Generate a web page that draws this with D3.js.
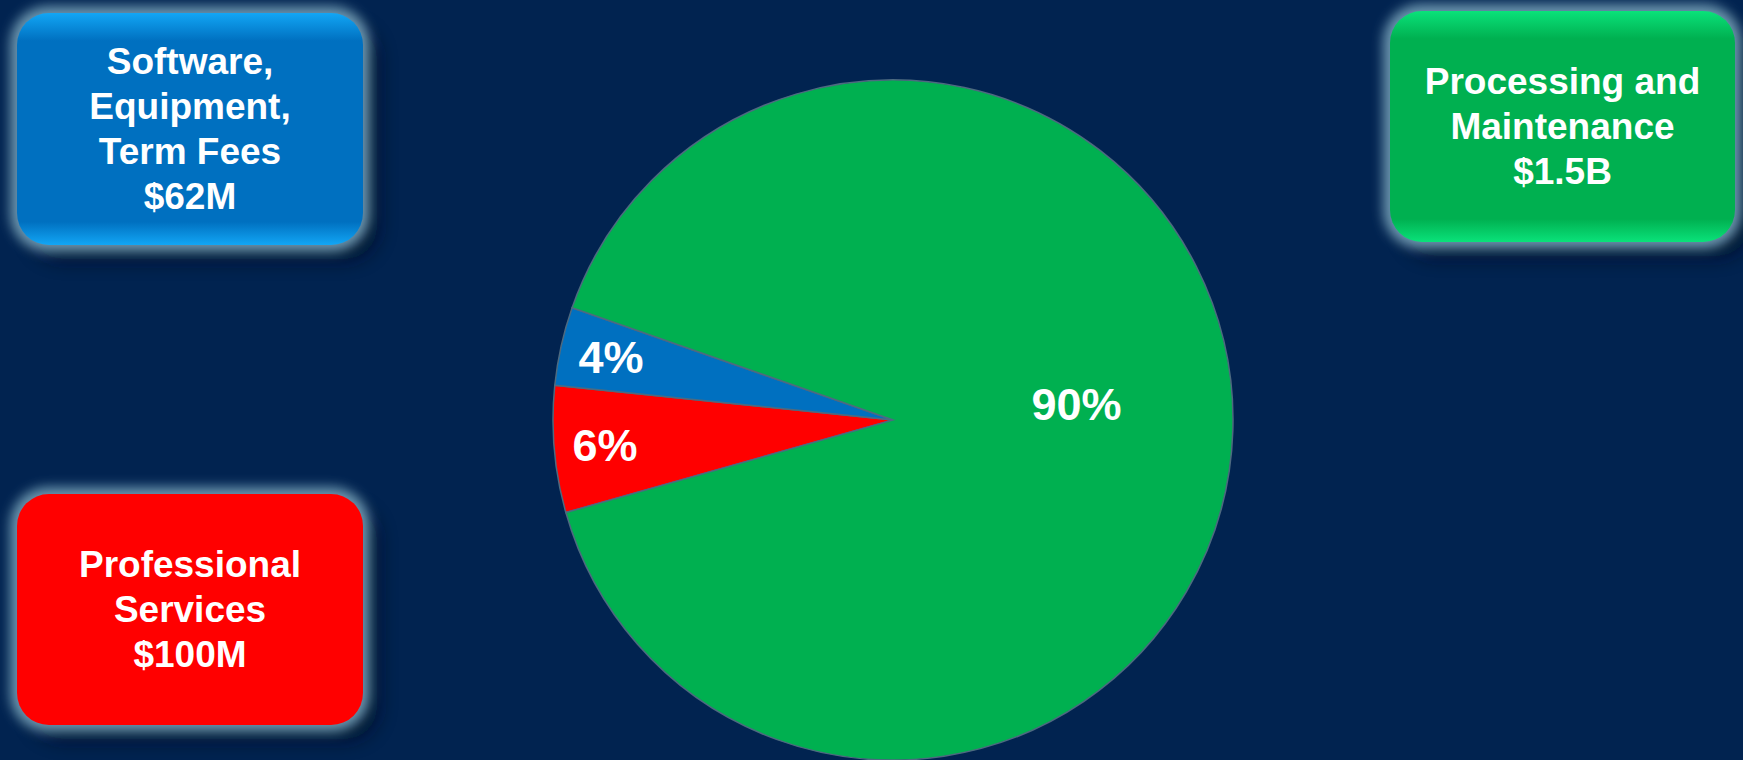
<!DOCTYPE html>
<html>
<head>
<meta charset="utf-8">
<script src="https://cdn.jsdelivr.net/npm/d3@7"></script>
<style>
  html, body { margin: 0; padding: 0; background: #012350; }
  svg { display: block; }
</style>
</head>
<body>
<svg id="chart" width="1743" height="760"></svg>
<script>
// ---------------- data ----------------
const categories = ["Professional Services", "Software, Equipment, Term Fees", "Processing and Maintenance"];
const values = [100, 62, 1500]; // $M
const valueLabels = ["$100M", "$62M", "$1.5B"];
const boxLines = [
    ["Professional", "Services"],
    ["Software,", "Equipment,", "Term Fees"],
    ["Processing and", "Maintenance"]
];
const colors = ["#ff0000", "#0070c0", "#00b050"];
const edgeColors = ["#ff0000", "#12a6f5", "#0ae27a"];

// ---------------- layout ----------------
const svg = d3.select("#chart"),
    width = +svg.attr("width"),
    height = +svg.attr("height");

const cx = 893, cy = 420, radius = 340;
const boxes = [
    { x: 17, y: 494, w: 346, h: 231 },
    { x: 17, y: 13, w: 346, h: 232 },
    { x: 1390, y: 11, w: 345, h: 231 }
];

const defs = svg.append("defs");

const glow = defs.append("filter")
    .attr("id", "glow")
    .attr("x", "-20%").attr("y", "-20%")
    .attr("width", "140%").attr("height", "140%");
glow.append("feGaussianBlur").attr("stdDeviation", 6);

const shadow = defs.append("filter")
    .attr("id", "shadow")
    .attr("x", "-20%").attr("y", "-20%")
    .attr("width", "150%").attr("height", "150%");
shadow.append("feGaussianBlur").attr("stdDeviation", 10);

categories.forEach((c, i) => {
    const g = defs.append("linearGradient")
        .attr("id", "grad" + i)
        .attr("x1", 0).attr("y1", 0).attr("x2", 0).attr("y2", 1);
    g.append("stop").attr("offset", "0%").attr("stop-color", edgeColors[i]);
    g.append("stop").attr("offset", "12%").attr("stop-color", colors[i]);
    g.append("stop").attr("offset", "90%").attr("stop-color", colors[i]);
    g.append("stop").attr("offset", "100%").attr("stop-color", edgeColors[i]);
});

// ---------------- boxes ----------------
const boxG = svg.append("g")
    .selectAll("g")
    .data(categories)
    .join("g")
    .attr("transform", (d, i) => `translate(${boxes[i].x},${boxes[i].y})`);

boxG.append("rect")
    .attr("x", 14).attr("y", 14)
    .attr("width", (d, i) => boxes[i].w)
    .attr("height", (d, i) => boxes[i].h)
    .attr("rx", 32)
    .attr("fill", "#000a1e")
    .attr("opacity", 0.7)
    .attr("filter", "url(#shadow)");

boxG.append("rect")
    .attr("x", -7).attr("y", -7)
    .attr("width", (d, i) => boxes[i].w + 14)
    .attr("height", (d, i) => boxes[i].h + 14)
    .attr("rx", 38)
    .attr("fill", "#6a94ad")
    .attr("filter", "url(#glow)");

boxG.append("rect")
    .attr("width", (d, i) => boxes[i].w)
    .attr("height", (d, i) => boxes[i].h)
    .attr("rx", 32)
    .attr("fill", (d, i) => `url(#grad${i})`);

const lineH = 45;
boxG.each(function (d, i) {
    const lines = boxLines[i].concat([valueLabels[i]]);
    const g = d3.select(this);
    const top = boxes[i].h / 2 - (lines.length - 1) * lineH / 2;
    g.selectAll("text")
        .data(lines)
        .join("text")
        .attr("x", boxes[i].w / 2)
        .attr("y", (t, j) => top + j * lineH)
        .attr("dy", "0.35em")
        .attr("text-anchor", "middle")
        .style("font-family", "'Liberation Sans', Arial, sans-serif")
        .style("font-weight", "bold")
        .style("font-size", "37px")
        .style("fill", "#ffffff")
        .text(t => t);
});

// ---------------- pie ----------------
const total = d3.sum(values);
const pie = d3.pie()
    .sort(null)
    .startAngle(254.2 * Math.PI / 180)
    .endAngle(254.2 * Math.PI / 180 + 2 * Math.PI);

const arcs = pie(values);
const arc = d3.arc().innerRadius(0).outerRadius(radius);

const pieG = svg.append("g")
    .attr("transform", `translate(${cx},${cy})`);

pieG.selectAll("path")
    .data(arcs)
    .join("path")
    .attr("d", arc)
    .attr("fill", (d, i) => colors[i])
    .attr("stroke", "#4d6a80")
    .attr("stroke-width", 1.5);

pieG.selectAll("text")
    .data(arcs)
    .join("text")
    .attr("transform", d => {
        const share = d.value / total;
        const r = share > 0.5 ? radius * 0.54 : radius * 0.85;
        const c = d3.arc().innerRadius(r).outerRadius(r).centroid(d);
        return `translate(${c[0]},${c[1] - (share > 0.5 ? 22 : 0)})`;
    })
    .attr("dy", "0.36em")
    .attr("text-anchor", "middle")
    .style("font-family", "'Liberation Sans', Arial, sans-serif")
    .style("font-weight", "bold")
    .style("font-size", "45px")
    .style("fill", "#ffffff")
    .text(d => Math.round(d.value / total * 100) + "%");
</script>
</body>
</html>
